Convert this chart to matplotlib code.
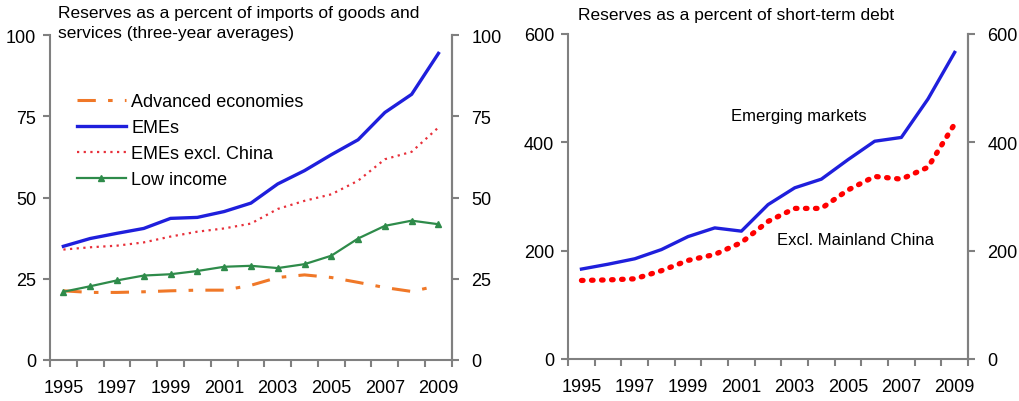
import matplotlib.pyplot as plt
import numpy as np

plt.rcParams['font.family'] = ['Liberation Sans', 'DejaVu Sans']

years = list(range(1995, 2010))

# Left panel: reserves as % of imports (three-year averages)
advanced = [21.3, 20.8, 20.8, 21.0, 21.3, 21.5, 21.5, 23.0, 25.4, 26.2, 25.4, 23.9, 22.3, 21.1, 22.9]
emes = [35.0, 37.4, 39.0, 40.5, 43.6, 43.9, 45.7, 48.3, 54.2, 58.3, 63.2, 67.8, 76.2, 81.8, 94.4]
emes_ex_china = [34.0, 34.7, 35.2, 36.2, 38.0, 39.5, 40.5, 42.0, 46.5, 49.0, 51.0, 55.2, 61.8, 64.1, 71.6]
low_income = [21.0, 22.7, 24.5, 26.0, 26.4, 27.4, 28.7, 29.0, 28.3, 29.5, 32.1, 37.4, 41.3, 42.9, 41.8]

# Right panel: reserves as % of short-term debt
em_debt = [166, 175, 185, 202, 226, 242, 236, 285, 316, 332, 368, 402, 409, 480, 566]
em_debt_ex_china = [145, 146, 148, 163, 182, 193, 215, 254, 278, 278, 312, 337, 332, 354, 434]

left_ticks = [0, 25, 50, 75, 100]
right_ticks = [0, 200, 400, 600]
year_labels = [1995, 1997, 1999, 2001, 2003, 2005, 2007, 2009]

grey = '#808080'
fs = 13


def style_axis(ax, yticks):
    ax.set_xlim(1994.5, 2009.5)
    ax.set_ylim(yticks[0], yticks[-1])
    ax.set_yticks(yticks)
    ax.set_xticks(year_labels)
    ax.set_xticklabels([str(y) for y in year_labels])
    ax.set_xticks(np.arange(1994.5, 2010, 1), minor=True)
    ax.tick_params(axis='x', which='major', length=0, pad=14, labelsize=fs)
    ax.tick_params(axis='x', which='minor', length=5, width=1.5, color=grey, direction='out')
    ax.tick_params(axis='y', length=5, width=1.5, color=grey, direction='out',
                   labelsize=fs, pad=5)
    ax.spines['top'].set_visible(False)
    for s in ['left', 'right', 'bottom']:
        ax.spines[s].set_color(grey)
        ax.spines[s].set_linewidth(1.5)
    # mirrored axis on the right
    axr = ax.twinx()
    axr.set_ylim(yticks[0], yticks[-1])
    axr.set_yticks(yticks)
    axr.tick_params(axis='y', length=5, width=1.5, color=grey, direction='out',
                    labelsize=fs, pad=9)
    for s in ['left', 'top', 'bottom']:
        axr.spines[s].set_visible(False)
    axr.spines['right'].set_color(grey)
    axr.spines['right'].set_linewidth(1.5)


fig = plt.figure(figsize=(10.2, 4.02), dpi=100)

ax1 = fig.add_axes([0.049, 0.102, 0.394, 0.808])
ax1.plot(years, advanced, color='#F07828', lw=2.2, dashes=(6, 4, 1.5, 4), label='Advanced economies')
ax1.plot(years, emes, color='#1F1FDC', lw=2.4, label='EMEs')
ax1.plot(years, emes_ex_china, color='#E8303A', lw=1.6, ls=(0, (1, 2)), label='EMEs excl. China')
ax1.plot(years, low_income, color='#2E8B4A', lw=1.6, marker='^', ms=5, label='Low income')
ax1.legend(loc='upper left', bbox_to_anchor=(0.045, 0.85), frameon=False, fontsize=fs,
           handlelength=2.7, handletextpad=0.3, labelspacing=0.5, borderpad=0)
style_axis(ax1, left_ticks)
fig.text(0.057, 0.985, 'Reserves as a percent of imports of goods and\nservices (three-year averages)',
         ha='left', va='top', fontsize=12.5, linespacing=1.45)

ax2 = fig.add_axes([0.557, 0.1045, 0.392, 0.8085])
ax2.plot(years, em_debt, color='#1F1FDC', lw=2.4)
ax2.plot(years, em_debt_ex_china, color='#FF0000', lw=3.8, ls=(0, (0.3, 1.6)), dash_capstyle='round')
ax2.text(2000.6, 449, 'Emerging markets', fontsize=12, ha='left', va='center')
ax2.text(2002.35, 221, 'Excl. Mainland China', fontsize=12, ha='left', va='center')
style_axis(ax2, right_ticks)
fig.text(0.567, 0.98, 'Reserves as a percent of short-term debt', ha='left', va='top', fontsize=12.5)

fig.savefig('out.png', dpi=100)
